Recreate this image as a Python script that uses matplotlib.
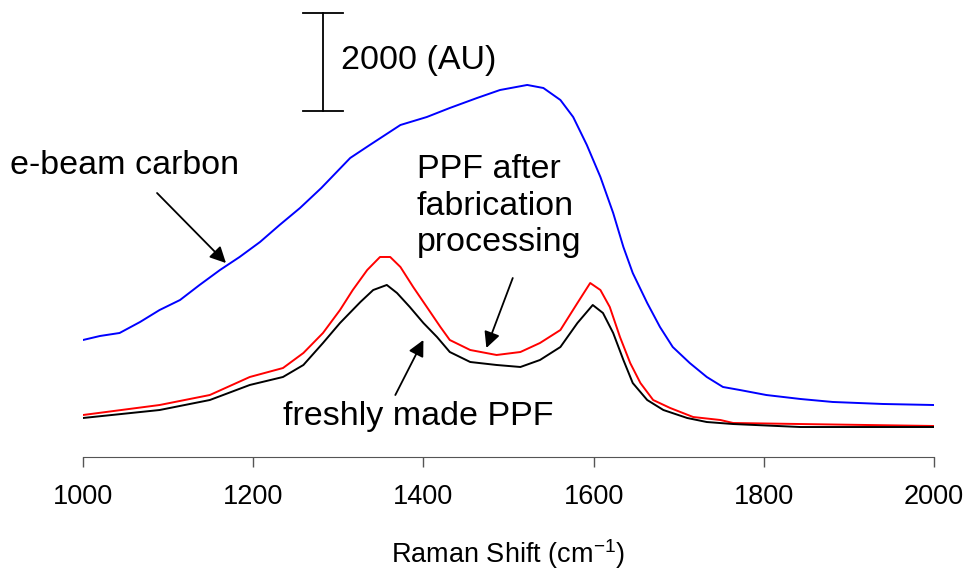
import numpy as np
import matplotlib
matplotlib.use("Agg")
import matplotlib.pyplot as plt

plt.rcParams['font.family'] = ['Liberation Sans', 'DejaVu Sans']
plt.rcParams['mathtext.fontset'] = 'custom'
plt.rcParams['mathtext.rm'] = 'Liberation Sans'
plt.rcParams['mathtext.it'] = 'Liberation Sans:italic'

# e-beam carbon spectrum (Raman shift, intensity AU)
ebeam_x = [1000, 1020, 1043, 1067, 1090, 1114, 1137, 1161, 1184, 1208, 1231, 1255,
           1280, 1314, 1337, 1373, 1404, 1431, 1463, 1490, 1522, 1541, 1561, 1576,
           1592, 1608, 1623, 1635, 1646, 1663, 1678, 1693, 1713, 1733, 1752, 1772,
           1803, 1843, 1881, 1940, 2000]
ebeam_y = [2388, 2470, 2531, 2755, 3000, 3204, 3511, 3817, 4082, 4388, 4735, 5082,
           5490, 6103, 6368, 6776, 6939, 7123, 7327, 7490, 7593, 7531, 7286, 6939,
           6370, 5715, 4980, 4286, 3755, 3143, 2653, 2245, 1918, 1633, 1429, 1367,
           1265, 1184, 1123, 1082, 1061]

# PPF after fabrication processing
proc_x = [1000, 1090, 1149, 1196, 1235, 1259, 1282, 1302, 1317, 1334, 1349, 1361,
          1373, 1388, 1404, 1420, 1431, 1455, 1486, 1514, 1537, 1561, 1581, 1596,
          1608, 1619, 1631, 1643, 1655, 1670, 1690, 1717, 1749, 1764, 1843, 2000]
proc_y = [857, 1061, 1265, 1633, 1816, 2123, 2531, 3000, 3408, 3817, 4082, 4082,
          3878, 3470, 3062, 2653, 2388, 2184, 2082, 2143, 2327, 2592, 3143, 3551,
          3408, 3062, 2449, 1918, 1510, 1163, 1000, 816, 755, 694, 673, 633]

# freshly made PPF
fresh_x = [1000, 1090, 1149, 1196, 1235, 1259, 1282, 1302, 1326, 1341, 1357, 1369,
           1384, 1400, 1416, 1431, 1455, 1486, 1514, 1537, 1561, 1581, 1599, 1611,
           1623, 1635, 1646, 1663, 1682, 1710, 1733, 1764, 1843, 2000]
fresh_y = [796, 959, 1163, 1470, 1633, 1878, 2327, 2735, 3164, 3408, 3511, 3347,
           3062, 2735, 2449, 2143, 1939, 1878, 1837, 1980, 2245, 2735, 3102, 2939,
           2531, 1980, 1510, 1163, 959, 796, 714, 673, 612, 612]

fig = plt.figure(figsize=(9.7, 5.72), dpi=100)
ax = fig.add_axes([83/970, 115/572, 851/970, 452/572])

ax.plot(ebeam_x, ebeam_y, color='#0000ff', lw=1.4)
ax.plot(proc_x, proc_y, color='#ff0000', lw=1.4)
ax.plot(fresh_x, fresh_y, color='black', lw=1.4)

ax.set_xlim(1000, 2000)
ax.set_ylim(0, 9225)
ax.set_xticks([1000, 1200, 1400, 1600, 1800, 2000])
ax.set_yticks([])
for s in ['top', 'right', 'left']:
    ax.spines[s].set_visible(False)
ax.spines['bottom'].set_color('#555555')
ax.tick_params(axis='x', direction='out', length=7.2, width=1, color='#555555',
               labelsize=19.5, pad=12)
ax.set_xlabel('Raman Shift (cm$^{-1}$)', fontsize=19.5, labelpad=20)

# scale bar
ax.plot([1282, 1282], [7062, 9062], color='black', lw=1.3, clip_on=False)
ax.plot([1258, 1306], [9062, 9062], color='black', lw=1.3, clip_on=False)
ax.plot([1258, 1306], [7062, 7062], color='black', lw=1.3, clip_on=False)
ax.text(1303, 8100, '2000 (AU)', fontsize=24.5, va='center', ha='left')

arrow = dict(arrowstyle='-|>', color='black', lw=1.3, mutation_scale=24,
             shrinkA=0, shrinkB=0)
ax.annotate('', xy=(1168, 3959), xytext=(1087, 5388), arrowprops=arrow)
ax.annotate('', xy=(1474, 2225), xytext=(1505, 3653), arrowprops=arrow)
ax.annotate('', xy=(1400, 2388), xytext=(1367, 1265), arrowprops=arrow)

ax.text(914, 5950, 'e-beam carbon', fontsize=24.5, va='center', ha='left')
ax.text(1392, 5120, 'PPF after\nfabrication\nprocessing', fontsize=24.5,
        va='center', ha='left', linespacing=1.22)
ax.text(1235, 830, 'freshly made PPF', fontsize=24.5, va='center', ha='left')

fig.savefig('out.png', dpi=100)
